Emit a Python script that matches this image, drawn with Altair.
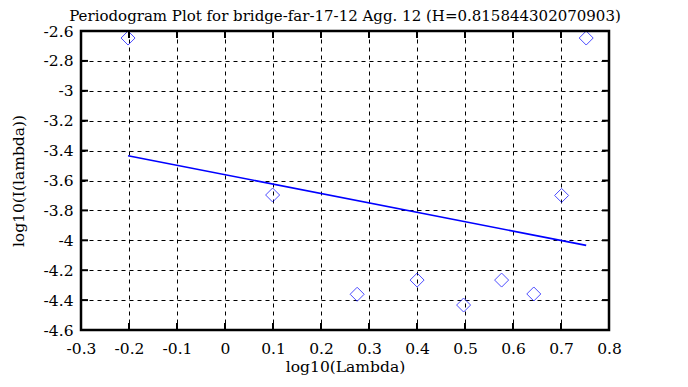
import altair as alt
import pandas as pd

# data
freq_log = [-0.2020, 0.0992, 0.2753, 0.4002, 0.4971, 0.5763, 0.6433, 0.7013, 0.7525]
power_log = [-2.647, -3.697, -4.361, -4.266, -4.433, -4.266, -4.359, -3.700, -2.647]
fit_x = [-0.2020, 0.7525]
fit_y = [-3.434, -4.034]
x_ticks = [-0.3, -0.2, -0.1, 0.0, 0.1, 0.2, 0.3, 0.4, 0.5, 0.6, 0.7, 0.8]
y_ticks = [-4.6, -4.4, -4.2, -4.0, -3.8, -3.6, -3.4, -3.2, -3.0, -2.8, -2.6]
title_text = "Periodogram Plot for bridge-far-17-12 Agg. 12 (H=0.815844302070903)"
x_title = "log10(Lambda)"
y_title = "log10(I(lambda))"

FONT = "DejaVu Serif"
FS = 15.5
W, H = 528, 299
TL = 7

xscale = alt.Scale(domain=[-0.3, 0.8], nice=False, zero=False)
yscale = alt.Scale(domain=[-4.6, -2.6], nice=False, zero=False)

pts = pd.DataFrame({"x": freq_log, "y": power_log})
fit = pd.DataFrame({"x": fit_x, "y": fit_y})
xt = pd.DataFrame({"x": x_ticks})
yt = pd.DataFrame({"y": y_ticks})
frame_df = pd.DataFrame({"k": [0]})

common_axis = dict(
    grid=True, gridColor="black", gridDash=[4, 4], gridWidth=1, gridOpacity=1,
    ticks=False, tickSize=0, domain=False,
    labelFont=FONT, labelFontSize=FS, labelColor="black",
    titleFont=FONT, titleFontSize=FS, titleFontWeight="normal", titleColor="black",
    labelExpr="'' + datum.value",
)
xaxis = alt.Axis(values=x_ticks, title=x_title, labelPadding=11,
                 titlePadding=3, labelFlush=False, **common_axis)
yaxis = alt.Axis(values=y_ticks, title=y_title, labelPadding=8,
                 titlePadding=17, **common_axis)

X = alt.X("x:Q", scale=xscale, axis=xaxis)
Y = alt.Y("y:Q", scale=yscale, axis=yaxis)

points = alt.Chart(pts).mark_point(
    shape="diamond", filled=False, color="#0000ff", size=196, strokeWidth=1
).encode(x=X, y=Y)

line = alt.Chart(fit).mark_line(color="#0000ff", strokeWidth=1.6).encode(x=X, y=Y)

tick_style = dict(color="black", strokeWidth=2)
bottom_ticks = alt.Chart(xt).mark_rule(**tick_style).encode(
    x=X, y=alt.value(H), y2=alt.value(H - TL))
top_ticks = alt.Chart(xt).mark_rule(**tick_style).encode(
    x=X, y=alt.value(0), y2=alt.value(TL))
left_ticks = alt.Chart(yt).mark_rule(**tick_style).encode(
    y=Y, x=alt.value(0), x2=alt.value(TL))
right_ticks = alt.Chart(yt).mark_rule(**tick_style).encode(
    y=Y, x=alt.value(W - TL), x2=alt.value(W))

frame = alt.Chart(frame_df).mark_rect(
    fill=None, filled=False, stroke="black", strokeWidth=2.5
).encode(x=alt.value(0), x2=alt.value(W), y=alt.value(0), y2=alt.value(H))

chart = alt.layer(
    points, line, bottom_ticks, top_ticks, left_ticks, right_ticks, frame
).properties(
    width=W, height=H,
    title=alt.TitleParams(title_text, font=FONT, fontSize=15, fontWeight="normal",
                          color="black", anchor="middle", offset=0),
    padding={"left": 73, "top": 23, "right": 70, "bottom": 49},
    autosize=alt.AutoSizeParams(type="none"),
).configure_view(stroke=None)

chart.save("out.html", embed_options={"renderer": "svg", "actions": False})
